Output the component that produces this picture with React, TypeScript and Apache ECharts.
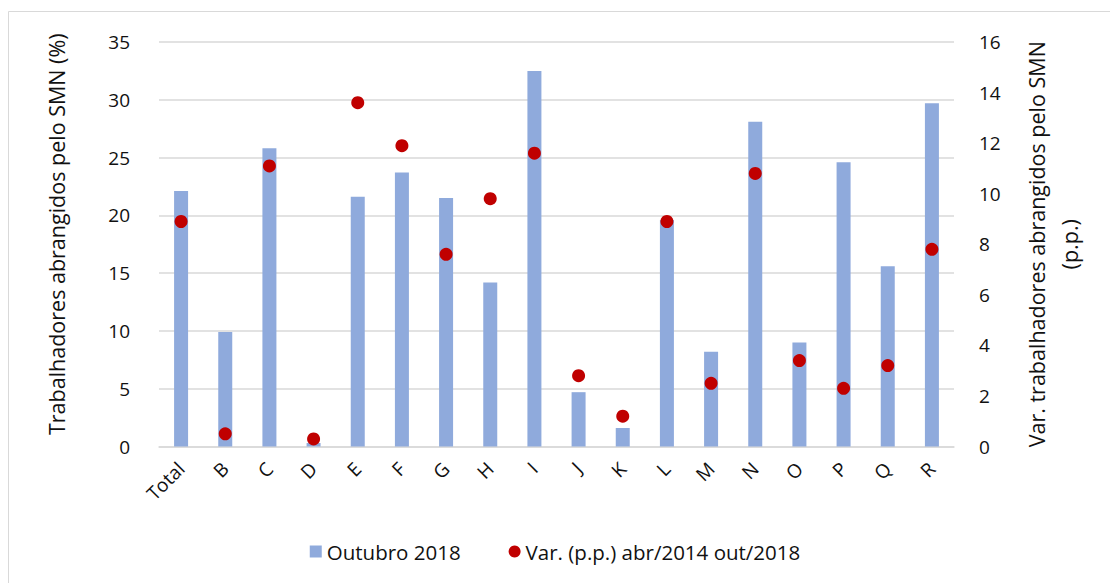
import React, { useEffect, useRef } from "react";
import * as echarts from "echarts";

const categories = ["Total", "B", "C", "D", "E", "F", "G", "H", "I", "J", "K", "L", "M", "N", "O", "P", "Q", "R"];
const outubro2018 = [22.1, 9.9, 25.8, 0.3, 21.6, 23.7, 21.5, 14.2, 32.5, 4.7, 1.6, 19.6, 8.2, 28.1, 9.0, 24.6, 15.6, 29.7];
const variacao = [8.9, 0.5, 11.1, 0.3, 13.6, 11.9, 7.6, 9.8, 11.6, 2.8, 1.2, 8.9, 2.5, 10.8, 3.4, 2.3, 3.2, 7.8];
const seriesNames = ["Outubro 2018", "Var. (p.p.) abr/2014 out/2018"];
const leftTitle = "Trabalhadores abrangidos pelo SMN (%)";
const rightTitle = "Var. trabalhadores abrangidos pelo SMN\n(p.p.)";

const FONT = "Open Sans";
const TXT = "#111";

export default function App() {
  const ref = useRef<HTMLDivElement>(null);
  useEffect(() => {
    if (!ref.current) return;
    const chart = echarts.init(ref.current, null, { renderer: "svg" });
    chart.setOption({
      animation: false,
      backgroundColor: "#ffffff",
      textStyle: { fontFamily: FONT },
      graphic: [
        { type: "line", shape: { x1: 8.5, y1: 11.5, x2: 8.5, y2: 583 }, style: { stroke: "#d9d9d9", lineWidth: 1 } },
        { type: "line", shape: { x1: 8.5, y1: 11.5, x2: 1110, y2: 11.5 }, style: { stroke: "#d9d9d9", lineWidth: 1 } },
      ],
      grid: { left: 159, right: 156, top: 42, bottom: 136.5, containLabel: false },
      legend: {
        left: "center",
        top: 536,
        itemGap: 48,
        itemWidth: 12,
        itemHeight: 12,
        textStyle: { fontFamily: FONT, fontSize: 20.5, color: TXT },
        data: [
          { name: seriesNames[0], icon: "rect" },
          { name: seriesNames[1], icon: "circle" },
        ],
      },
      xAxis: {
        type: "category",
        data: categories,
        axisLine: { show: true, lineStyle: { color: "#d9d9d9", width: 1.5 } },
        axisTick: { show: false },
        axisLabel: { rotate: 45, fontFamily: FONT, fontSize: 19, color: TXT, margin: 19, interval: 0 },
      },
      yAxis: [
        {
          type: "value",
          min: 0,
          max: 35,
          interval: 5,
          name: leftTitle,
          nameLocation: "middle",
          nameRotate: 90,
          nameGap: 92,
          nameTextStyle: { fontFamily: FONT, fontSize: 21.5, color: TXT, padding: [0, 0, 0, 20] },
          axisLine: { show: false },
          axisTick: { show: false },
          axisLabel: { fontFamily: FONT, fontSize: 19, color: TXT, margin: 29 },
          splitLine: { show: true, lineStyle: { color: "#d9d9d9", width: 1.5 } },
        },
        {
          type: "value",
          min: 0,
          max: 16,
          interval: 2,
          position: "right",
          name: rightTitle,
          nameLocation: "middle",
          nameRotate: 90,
          nameGap: 66,
          nameTextStyle: { fontFamily: FONT, fontSize: 21.5, color: TXT, lineHeight: 33 },
          axisLine: { show: false },
          axisTick: { show: false },
          axisLabel: { fontFamily: FONT, fontSize: 19, color: TXT, margin: 25 },
          splitLine: { show: false },
        },
      ],
      series: [
        {
          name: seriesNames[0],
          type: "bar",
          yAxisIndex: 0,
          data: outubro2018,
          barWidth: 14,
          itemStyle: { color: "#8faadc" },
        },
        {
          name: seriesNames[1],
          type: "scatter",
          yAxisIndex: 1,
          data: variacao,
          symbol: "circle",
          symbolSize: 13,
          itemStyle: { color: "#c00000", opacity: 1 },
        },
      ],
    });
    return () => chart.dispose();
  }, []);
  return (
    <div
      ref={ref}
      style={{ position: "fixed", left: 0, top: 0, width: 1110, height: 583, background: "#fff" }}
    />
  );
}
